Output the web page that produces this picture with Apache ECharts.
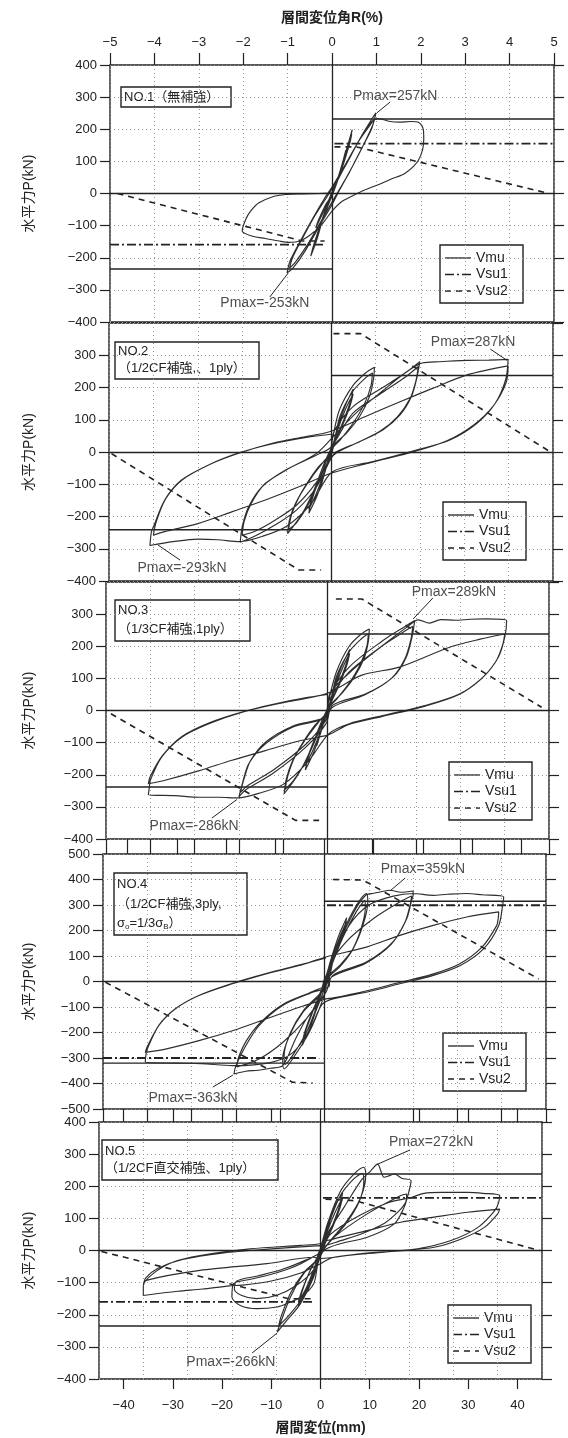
<!DOCTYPE html>
<html><head><meta charset="utf-8">
<script src="https://cdn.jsdelivr.net/npm/echarts@6/dist/echarts.min.js"></script>
<style>html,body{margin:0;padding:0;background:#fff}#c{width:568px;height:1438px}</style>
</head><body><div id="c"></div>
<script>
// ---------------- DATA ----------------
const X_MIN = -45, X_MAX = 45;             // 層間変位 (mm)
const R_MIN = -5, R_MAX = 5;               // 層間変位角 R (%)
const mmTicks = [-40, -30, -20, -10, 0, 10, 20, 30, 40];
const yMaxes = [400, 400, 400, 500, 400];
const specimenTitles = ['NO.1（無補強）', 'NO.2', 'NO.3', 'NO.4', 'NO.5'];
const specimenNotes = [[], ['（1/2CF補強,、1ply）'], ['（1/3CF補強,1ply）'],
  ['（1/2CF補強,3ply,', '{s|σ}{sub|o}{s|=1/3σ}{sub|B}{s|）}'], ['（1/2CF直交補強、1ply）']];
const legendNames = ['Vmu', 'Vsu1', 'Vsu2'];

// Vmu (+side, −side)
const vmu = [[232, -235], [237, -241], [238, -238], [315, -320], [238, -235]];
// Vsu1 (+side, −side), null = off scale
const vsu1 = [[155, -159], null, null, [299, -300], [164, -160]];
// Vsu2 polylines
const vsu2Pos = [
  [[0.5, 145], [5, 145], [44, 0]],
  [[0.5, 367], [6, 367], [44.5, 0]],
  [[1.7, 347], [7, 347], [43.5, 10]],
  [[1.7, 400], [7.8, 398], [43.5, 10]],
  [[1, 160], [7, 155], [44.5, 0]]
];
const vsu2Neg = [
  [[-43.5, 0], [-6, -148], [-1.5, -148]],
  [[-44.5, -5], [-6.5, -366], [-2, -366]],
  [[-44, -10], [-6.5, -342], [-1.7, -342]],
  [[-44.5, -3], [-6.5, -395], [-2.4, -398]],
  [[-44.5, -3], [-6.5, -150], [-1, -150]]
];

// hysteresis loops [δ (mm), P (kN)]
const hyst1 = [
  [0,0],[1.2,45],[2.8,135],[2.3,105],[1,40],[0,5],[-1.2,-40],[-3.3,-107],[-2.8,-85],[-1.3,-35],[0,-5],
  [1.5,60],[3,140],[4.1,199],[3.7,170],[2.5,110],[1,40],[0,0],[-1.5,-60],[-3,-140],[-4.3,-195],[-3.8,-165],[-2.5,-105],[-1,-40],[0,-5],
  [1.5,55],[3,125],[4,185],[3.5,150],[2.2,90],[0.8,25],[-1.5,-65],[-3,-130],[-4.1,-182],[-3.5,-150],[-2.2,-90],[-0.8,-30],[0,-10],
  [0.5,20],[3,95],[6,180],[8,230],[8.9,251],[8.3,215],[6.5,155],[4,80],[1.5,10],[0,-35],[-2.5,-100],[-5.5,-180],[-7.8,-230],[-9.1,-247],[-8.5,-210],[-6.5,-150],[-4,-80],[-1.5,-15],[0,20],
  [2.5,85],[5.5,165],[7.8,215],[8.6,232],[8,200],[6,140],[3.5,65],[1,0],[-2,-80],[-5,-160],[-7.5,-215],[-8.6,-232],[-8,-200],[-6,-140],[-3.5,-70],[-1,-10],[0,15],
  [2.5,80],[5.5,165],[7.8,220],[9.5,233],[11.5,225],[13.6,222],[16,224],[17.6,221],[18.5,200],[18.6,168],[17.6,106],[14.9,64],[12,45],[9.5,28],[6.5,10],[4.1,-8],[2,-25],[0,-55],
  [-2,-95],[-4.5,-130],[-6.5,-148],[-8.7,-152],[-10.7,-148],[-13.5,-140],[-16.1,-133],[-18.2,-117],[-17.5,-81],[-16.5,-55],[-14.8,-29],[-12,-10],[-9.4,-3],[-6,-1],[-2.6,0],[0,2]
];
const hyst2 = [
  [0,0],[1,55],[2.2,115],[1.7,85],[0.6,30],[0,8],[-1,-50],[-2.2,-115],[-1.7,-85],[-0.6,-30],[0,-5],
  [1.2,70],[2.8,140],[4.5,195],[4,160],[2.6,100],[0.8,35],[0,10],[-1.2,-60],[-2.8,-135],[-4.5,-190],[-4,-155],[-2.6,-95],[-0.8,-35],[0,-12],
  [1.4,70],[3,135],[4.5,180],[3.9,145],[2.4,85],[0.6,25],[-1.4,-65],[-3,-130],[-4.5,-178],[-3.8,-140],[-2.2,-80],[-0.4,-20],
  [0.3,40],[1.7,130],[4.4,205],[7,245],[8.8,263],[8.6,224],[7.8,172],[5.8,110],[3.1,58],[0.3,17],[-1.5,-40],[-3.5,-120],[-6,-195],[-8.8,-253],[-8.4,-210],[-7.2,-160],[-5,-100],[-2.5,-45],[0,-5],
  [1.8,110],[4.5,190],[7,230],[8.4,245],[8.1,205],[6.8,150],[4.5,90],[2,40],[0,5],[-2,-70],[-4.5,-160],[-7,-220],[-8.6,-240],[-8,-195],[-6.5,-140],[-4,-80],[-1.5,-30],[0,0],
  [0.5,60],[4.4,140],[10.5,200],[15.3,248],[18,280],[17.4,230],[16.3,172],[14,115],[10.5,68],[5.8,32],[1,0],[0,-20],[-3,-110],[-7,-180],[-11.2,-225],[-15.3,-260],[-18.4,-280],[-18,-232],[-16.7,-170],[-14,-108],[-9.2,-56],[-3,-10],[0,15],
  [4.4,120],[10.5,185],[15.3,235],[17.7,265],[17.2,220],[16,165],[13.5,110],[10,65],[5.5,30],[0.5,-10],[-3,-95],[-7,-165],[-11.2,-210],[-15.3,-245],[-18,-258],[-17.6,-215],[-16.2,-160],[-13.5,-100],[-9,-55],[-3,-5],[0,40],
  [5,120],[10.5,190],[15,245],[18.5,276],[22,280],[27.6,284],[32,285],[35.9,287],[35.4,224],[33.3,151],[29.6,89],[24.1,37],[17.3,6],[8.5,-30],[0.3,-61],[-4,-160],[-9,-230],[-14,-262],[-18.4,-278],[-23,-272],[-27,-270],[-32,-278],[-36.7,-290],[-36.4,-247],[-36,-232],[-33.7,-149],[-30.3,-87],[-24.8,-40],[-18.7,-4],[-11.9,27],[-5.1,48],[-0.3,63],
  [7,110],[14,156],[20.7,198],[27.6,239],[35.9,267],[35.5,215],[33,145],[29,85],[23.5,35],[17,2],[8,-33],[0,-66],[-6.5,-108],[-13.3,-149],[-20,-185],[-27,-222],[-33.7,-247],[-36,-258],[-35.5,-220],[-33.5,-145],[-30,-85],[-24.5,-38],[-18.5,-2],[-12,25],[-5,45],[0,55]
];
const hyst3 = [
  [0,0],[1,50],[2.2,110],[1.7,80],[0.6,25],[0,5],[-1,-50],[-2.2,-110],[-1.7,-80],[-0.6,-25],[0,-5],
  [1.2,65],[2.8,135],[4.5,190],[4,155],[2.6,95],[0.8,30],[0,8],[-1.2,-60],[-2.8,-130],[-4.5,-185],[-4,-150],[-2.6,-90],[-0.8,-30],[0,-10],
  [1.4,65],[3,130],[4.5,178],[3.9,140],[2.4,80],[0.6,20],[-1.4,-65],[-3,-125],[-4.5,-172],[-3.8,-135],[-2.2,-75],[-0.4,-18],
  [0.3,35],[1.8,120],[4.4,200],[7,240],[8.5,254],[8.3,215],[7.5,165],[5.5,105],[3,55],[0.3,12],[-1.5,-45],[-3.5,-125],[-6,-200],[-8.8,-259],[-8.4,-215],[-7.2,-160],[-5,-100],[-2.5,-45],[0,-5],
  [1.8,105],[4.5,185],[7,225],[8.3,240],[8,200],[6.7,145],[4.4,85],[2,38],[0,3],[-2,-75],[-4.5,-160],[-7,-220],[-8.6,-245],[-8,-200],[-6.5,-140],[-4,-80],[-1.5,-30],[0,-2],
  [0.3,41],[4.4,135],[11.2,217],[16,264],[17.7,280],[17.3,238],[16,166],[13.3,104],[7.8,52],[1,16],[-0.3,-41],[-4.4,-114],[-11.2,-197],[-16.7,-248],[-18,-269],[-17.3,-228],[-16,-166],[-12.6,-104],[-7.1,-52],[-0.3,-21],
  [0.3,30],[4.4,120],[11,200],[15.5,245],[17.3,262],[17,225],[15.7,160],[13,100],[7.5,48],[1,10],[-0.5,-35],[-4.4,-105],[-11,-185],[-16.3,-235],[-17.7,-255],[-17,-215],[-15.6,-155],[-12.3,-95],[-7,-48],[0,-15],
  [0.3,45],[5,125],[11,200],[16,258],[18.5,282],[20.7,272],[23,283],[26,281],[29,284],[32,285],[36.4,280],[36,228],[34.7,166],[31.6,104],[26.9,52],[20,16],[11.2,-16],[4.4,-41],[0.3,-72],[-4,-160],[-9,-230],[-14,-258],[-18.2,-272],[-22,-270],[-26,-270],[-31,-265],[-36.4,-262],[-36.2,-240],[-36,-217],[-33.7,-145],[-29.6,-83],[-24.1,-41],[-17.3,-5],[-8.5,26],[-0.3,52],
  [7,110],[14.6,135],[24.8,197],[31,222],[36,238],[35.6,205],[34.3,155],[31.2,98],[26.5,48],[19.7,13],[11,-19],[4.2,-44],[0.3,-75],[-5.8,-95],[-12.6,-125],[-19.4,-155],[-26.2,-188],[-33,-217],[-36.4,-228],[-36,-205],[-33.5,-140],[-29.5,-80],[-24,-38],[-17,-3],[-8.5,28],[0,50]
];
const hyst4 = [
  [0,0],[1,60],[2.2,140],[1.7,100],[0.6,35],[0,5],[-1,-60],[-2.2,-140],[-1.7,-100],[-0.6,-35],[0,-5],
  [1.2,80],[2.8,175],[4.5,250],[4,205],[2.6,130],[0.8,40],[0,10],[-1.2,-80],[-2.8,-175],[-4.5,-250],[-4,-205],[-2.6,-130],[-0.8,-40],[0,-10],
  [1.4,85],[3,170],[4.5,235],[3.9,190],[2.4,115],[0.6,30],[-1.4,-90],[-3,-170],[-4.5,-235],[-3.8,-185],[-2.2,-105],[-0.4,-25],
  [1,63],[3.7,194],[6.5,299],[8.5,345],[8.8,312],[7.8,220],[5.8,128],[3.1,63],[1,24],[-0.3,-68],[-3.1,-199],[-6.5,-304],[-8.2,-343],[-8.5,-304],[-7.1,-212],[-4.4,-121],[-1,-55],[0,-20],
  [1.2,50],[3.8,175],[6.5,275],[8.2,318],[8.3,290],[7.4,205],[5.5,118],[3,55],[0.8,15],[-0.5,-55],[-3.3,-185],[-6.3,-285],[-8,-325],[-8.2,-290],[-6.9,-200],[-4.2,-112],[-0.8,-45],[0,-15],
  [1,60],[3.5,175],[6.5,290],[8.5,340],[10,346],[11.5,352],[13.3,358],[15.5,350],[18,355],[18,338],[17.7,318],[16.7,246],[13.9,155],[8.5,76],[1.7,24],[0.3,-42],[-3.7,-147],[-6,-230],[-8.5,-330],[-11,-340],[-13.5,-348],[-16,-352],[-18.4,-363],[-18,-330],[-16,-252],[-13.3,-173],[-8.5,-94],[-2.4,-42],[1,-16],
  [1,50],[4.4,155],[9.9,246],[15.3,312],[17.7,335],[17.4,300],[16.3,230],[13.5,145],[8.2,70],[1.5,18],[0.3,-42],[-3.7,-147],[-8.5,-239],[-13.3,-304],[-17.8,-335],[-17.5,-300],[-15.8,-230],[-13,-160],[-8.3,-88],[-2.3,-38],[0.5,-10],
  [2,100],[5,220],[9,300],[14,335],[18,345],[22,338],[25,342],[28.9,345],[32,340],[36.4,332],[36.2,300],[35.4,220],[32.3,128],[27.6,63],[22.1,24],[15.3,-9],[8.5,-42],[1.7,-68],[-0.5,-90],[-3,-190],[-6.5,-280],[-11,-318],[-18.6,-330],[-25,-322],[-30,-320],[-36.4,-317],[-36.3,-290],[-36,-265],[-33.7,-173],[-30.3,-107],[-25.5,-55],[-18.7,-9],[-11.9,30],[-5.1,63],[0.3,96],
  [8.5,135],[15.3,181],[22.1,220],[28.9,253],[35.4,273],[35.3,250],[35,220],[32,135],[27.3,68],[21.8,28],[15,-5],[8.2,-38],[1.5,-65],[0.3,-68],[-5.1,-101],[-11.9,-147],[-18.7,-193],[-25.5,-232],[-32.3,-265],[-36.4,-278],[-36,-255],[-33.5,-168],[-30,-103],[-25.2,-52],[-18.5,-6],[-11.7,32],[-5,65],[0.3,92]
];
const hyst5 = [
  [0,0],[1,50],[2.2,110],[1.7,80],[0.6,25],[0,5],[-1,-45],[-2.2,-105],[-1.7,-75],[-0.6,-25],[0,-5],
  [1.2,65],[2.8,135],[4.5,180],[4,145],[2.6,85],[0.8,25],[0,5],[-1.2,-55],[-2.8,-125],[-4.5,-175],[-4,-140],[-2.6,-80],[-0.8,-25],[0,-8],
  [1.4,60],[3,120],[4.5,165],[3.9,130],[2.4,70],[0.6,15],[-1.4,-60],[-3,-120],[-4.5,-160],[-3.8,-125],[-2.2,-65],[-0.4,-12],
  [1.4,83],[4.1,186],[6.8,238],[8.8,259],[9.2,238],[8.2,166],[5.4,93],[2,31],[0,-10],[-1.4,-83],[-4.1,-166],[-6.8,-217],[-8.8,-254],[-8.2,-228],[-6.1,-145],[-3.4,-72],[-0.7,-31],[0,-10],
  [1.4,70],[4,170],[6.7,222],[8.5,240],[8.8,215],[7.8,150],[5.1,82],[1.8,25],[0,-12],[-1.4,-75],[-4,-155],[-6.6,-205],[-8.5,-235],[-8,-205],[-6,-130],[-3.2,-65],[-0.6,-25],
  [1.4,52],[4.8,135],[8.2,217],[10.2,248],[11.6,269],[12.9,228],[14,233],[15,238],[16.5,225],[18.4,217],[18,186],[17,135],[15,83],[9.5,41],[4,21],[0.7,0],
  [-0.5,-40],[-1.4,-104],[-4,-145],[-6.8,-165],[-8.8,-176],[-12.9,-181],[-16.3,-171],[-18,-145],[-17.7,-104],[-15,-92],[-10.9,-78],[-7,-60],[-4,-41],[0,-5],
  [2.7,41],[9.5,114],[16.3,171],[17.5,176],[17.3,150],[16,124],[13,85],[8,50],[3,25],[0,5],
  [-1.4,-60],[-5,-110],[-9,-140],[-13,-150],[-16,-140],[-17.5,-120],[-17,-95],[-13,-80],[-8,-60],[-3,-30],[0,-5],
  [2,50],[8,110],[14,150],[18.4,165],[21,178],[24.5,181],[29.9,181],[33,178],[36.4,171],[36.2,150],[35.4,124],[32,72],[26.5,31],[19.7,5],[12.9,-5],[2.7,-21],[0,-41],
  [-4,-70],[-10,-95],[-16,-108],[-18.5,-110],[-24,-120],[-29,-127],[-36,-140],[-36,-110],[-34,-72],[-29.9,-36],[-24.5,-16],[-14.3,5],[-4,16],[0,21],
  [1.4,31],[9.5,62],[16.3,88],[23.1,104],[29.9,119],[36.4,129],[36,114],[33.3,72],[28.6,36],[23.1,10],[16.3,0],[8,-10],[0,-25],
  [-1.4,-21],[-10.9,-41],[-24.5,-62],[-35.4,-93],[-36,-109],[-35.5,-85],[-33,-55],[-28,-28],[-20,-8],[-10,5],[0,15]
];
const hyst = [hyst1, hyst2, hyst3, hyst4, hyst5];

// Pmax annotations: [δ, P, text]; arrows: [[from],[to]]
const pmaxText = [
  [[12.8, 303, 'Pmax=257kN'], [-13.6, -341, 'Pmax=-253kN']],
  [[28.8, 341, 'Pmax=287kN'], [-30.2, -360, 'Pmax=-293kN']],
  [[25.7, 369, 'Pmax=289kN'], [-27.1, -359, 'Pmax=-286kN']],
  [[20, 441, 'Pmax=359kN'], [-26.7, -457, 'Pmax=-363kN']],
  [[22.5, 338, 'Pmax=272kN'], [-18.2, -347, 'Pmax=-266kN']]
];
const pmaxArrow = [
  [[[11.8, 285], [9.1, 251]], [[-12.6, -322], [-8.9, -248]]],
  [[[32.3, 319], [35.7, 284]], [[-30.6, -335], [-35.1, -288]]],
  [[[21.4, 350], [17.4, 285]], [[-23.5, -335], [-18.4, -277]]],
  [[[16.4, 406], [13.3, 355]], [[-22.7, -414], [-18.6, -367]]],
  [[[18.2, 313], [11.5, 268]], [[-13.9, -319], [-8.8, -257]]]
];

// ---------------- LAYOUT ----------------
const FONT = "'Liberation Sans','Noto Sans CJK JP',sans-serif";
const INK = '#222';
const panels = [
  { left: 110, top: 65, width: 444, height: 257 },
  { left: 109, top: 323, width: 444, height: 258 },
  { left: 106, top: 582, width: 443, height: 257 },
  { left: 103, top: 854, width: 443, height: 255 },
  { left: 99, top: 1122, width: 443, height: 257 }
];
const titleBoxes = [
  { x: 121, y: 87, w: 110, h: 20, lines: [10] },
  { x: 115, y: 342, w: 144, h: 37, lines: [9, 26] },
  { x: 115, y: 600, w: 135, h: 41, lines: [10, 29] },
  { x: 114, y: 873, w: 133, h: 62, lines: [11, 31, 50] },
  { x: 102, y: 1140, w: 176, h: 40, lines: [11, 28] }
];
const legendBoxes = [[440, 245], [443, 502], [449, 762], [443, 1033], [448, 1305]];
const dashVsu1 = [9, 3, 2, 3];
const dashVsu2 = [6, 5];
const minus = v => (v < 0 ? '\u2212' + (-v) : String(v));

const grids = [], xAxes = [], yAxes = [], series = [], graphics = [];
const tickStyle = { color: INK, width: 1.2 };
const gridLine = { show: true, lineStyle: { type: [1, 3], color: '#9a9a9a', width: 1 } };
const noLine = { show: false, onZero: false };

panels.forEach((p, i) => {
  const ymax = yMaxes[i];
  grids.push({ left: p.left, top: p.top, width: p.width, height: p.height, show: true,
    borderColor: INK, borderWidth: 1.4, backgroundColor: 'transparent' });
  const mmIndex = xAxes.length;
  xAxes.push({ type: 'value', gridIndex: i, min: X_MIN, max: X_MAX, position: 'bottom',
    axisLine: noLine, splitLine: { show: false },
    axisTick: { show: i === 4, length: 10, lineStyle: tickStyle, customValues: mmTicks },
    axisLabel: { show: i === 4, customValues: mmTicks, margin: 20, fontSize: 13, color: INK, formatter: minus },
    name: i === 4 ? '層間変位(mm)' : '', nameLocation: 'middle', nameGap: 42,
    nameTextStyle: { fontSize: 14, color: INK, fontFamily: FONT, fontWeight: 'bold' } });
  const rPos = (i === 2 || i === 3) ? 'bottom' : 'top';
  const rTickLen = i === 0 ? 12 : (i === 2 ? 15 : 13);
  xAxes.push({ type: 'value', gridIndex: i, min: R_MIN, max: R_MAX, interval: 1, position: rPos,
    axisLine: noLine, splitLine: gridLine,
    axisTick: { show: i === 0 || i === 2 || i === 3, length: rTickLen, lineStyle: tickStyle },
    axisLabel: { show: i === 0, margin: 16, fontSize: 13, color: INK, formatter: minus },
    name: i === 0 ? '層間変位角R(%)' : '', nameLocation: 'middle', nameGap: 40,
    nameTextStyle: { fontSize: 14, color: INK, fontFamily: FONT, fontWeight: 'bold' } });
  if (i === 3 || i === 4) {
    xAxes.push({ type: 'value', gridIndex: i, min: X_MIN, max: X_MAX, position: 'top',
      axisLine: noLine, splitLine: { show: false }, axisLabel: { show: false },
      axisTick: { show: true, length: i === 3 ? 15 : 13, lineStyle: tickStyle, customValues: mmTicks } });
  }
  const yL = yAxes.length;
  yAxes.push({ type: 'value', gridIndex: i, min: -ymax, max: ymax, interval: 100, position: 'left',
    axisLine: noLine, splitLine: gridLine,
    axisTick: { show: true, length: 10, lineStyle: tickStyle },
    axisLabel: { margin: 13, fontSize: 13, color: INK, formatter: minus, showMaxLabel: !(i === 1 || i === 2) },
    name: '水平力P(kN)', nameLocation: 'middle', nameGap: p.left - 36,
    nameTextStyle: { fontSize: 14, color: INK, fontFamily: FONT } });
  yAxes.push({ type: 'value', gridIndex: i, min: -ymax, max: ymax, interval: 100, position: 'right',
    axisLine: noLine, splitLine: { show: false }, axisLabel: { show: false },
    axisTick: { show: true, length: 10, lineStyle: tickStyle } });

  const base = { xAxisIndex: mmIndex, yAxisIndex: yL, showSymbol: false, symbol: 'none', silent: true, animation: false };
  series.push(Object.assign({}, base, { type: 'line', name: 'P' + (i + 1), data: hyst[i], z: 4, smooth: 0.3,
    lineStyle: { color: '#2e2e2e', width: 1.15 },
    markLine: { silent: true, symbol: 'none', label: { show: false }, animation: false,
      lineStyle: { color: INK, width: 1.3, type: 'solid' }, data: [{ yAxis: 0 }, { xAxis: 0 }] } }));
  series.push(Object.assign({}, base, { type: 'line', name: 'Vmu', data: [[0, vmu[i][0]], [X_MAX, vmu[i][0]]], lineStyle: { color: INK, width: 1.4 }, z: 3 }));
  series.push(Object.assign({}, base, { type: 'line', name: 'Vmu', data: [[X_MIN, vmu[i][1]], [0, vmu[i][1]]], lineStyle: { color: INK, width: 1.4 }, z: 3 }));
  if (vsu1[i]) {
    series.push(Object.assign({}, base, { type: 'line', name: 'Vsu1', data: [[0.5, vsu1[i][0]], [X_MAX, vsu1[i][0]]], lineStyle: { color: INK, width: 1.8, type: dashVsu1 }, z: 3 }));
    series.push(Object.assign({}, base, { type: 'line', name: 'Vsu1', data: [[X_MIN, vsu1[i][1]], [-1.3, vsu1[i][1]]], lineStyle: { color: INK, width: 1.8, type: dashVsu1 }, z: 3 }));
  }
  series.push(Object.assign({}, base, { type: 'line', name: 'Vsu2', data: vsu2Pos[i], lineStyle: { color: INK, width: 1.6, type: dashVsu2 }, z: 3 }));
  series.push(Object.assign({}, base, { type: 'line', name: 'Vsu2', data: vsu2Neg[i], lineStyle: { color: INK, width: 1.6, type: dashVsu2 }, z: 3 }));
  series.push(Object.assign({}, base, { type: 'scatter', name: 'Pmax', symbol: 'circle', symbolSize: 0, z: 6,
    data: pmaxText[i].map(t => ({ value: [t[0], t[1]], name: t[2] })),
    label: { show: true, position: 'inside', formatter: q => q.name, fontSize: 14, color: INK, fontFamily: FONT },
    markLine: { silent: true, symbol: ['none', 'arrow'], symbolSize: [0, 6], label: { show: false }, animation: false,
      lineStyle: { color: INK, width: 1, type: 'solid' },
      data: pmaxArrow[i].map(a => [{ coord: a[0] }, { coord: a[1] }]) } }));

  const tb = titleBoxes[i];
  const kids = [{ type: 'rect', shape: { x: 0, y: 0, width: tb.w, height: tb.h }, style: { fill: '#fff', stroke: INK, lineWidth: 1.4 } }];
  const texts = [specimenTitles[i]].concat(specimenNotes[i]);
  texts.forEach((t, k) => {
    const st = { x: 3, y: tb.lines[k], text: t, fontSize: 13, fontFamily: FONT, fill: INK, verticalAlign: 'middle', align: 'left' };
    if (t.indexOf('{') >= 0) {
      st.rich = { s: { fontSize: 13, fontFamily: FONT, fill: INK }, sub: { fontSize: 8, fontFamily: FONT, fill: INK, padding: [7, 0, 0, 0] } };
    }
    kids.push({ type: 'text', style: st });
  });
  graphics.push({ type: 'group', x: tb.x, y: tb.y, z: 10, children: kids });

  const lb = legendBoxes[i];
  const lk = [{ type: 'rect', shape: { x: 0, y: 0, width: 83, height: 58 }, style: { fill: '#fff', stroke: INK, lineWidth: 1.4 } }];
  const dashes = [null, dashVsu1, dashVsu2];
  legendNames.forEach((nm, k) => {
    const yy = 13 + k * 16.5;
    const ls = { stroke: INK, lineWidth: k === 0 ? 1.3 : 1.6 };
    if (dashes[k]) ls.lineDash = dashes[k];
    lk.push({ type: 'line', shape: { x1: 5, y1: yy, x2: 31, y2: yy }, style: ls });
    lk.push({ type: 'text', style: { x: 36, y: yy, text: nm, fontSize: 14, fontFamily: FONT, fill: INK, verticalAlign: 'middle', align: 'left' } });
  });
  graphics.push({ type: 'group', x: lb[0], y: lb[1], z: 10, children: lk });
});

const chart = echarts.init(document.getElementById('c'), null, { renderer: 'canvas' });
chart.setOption({
  animation: false,
  backgroundColor: '#fff',
  textStyle: { fontFamily: FONT },
  grid: grids, xAxis: xAxes, yAxis: yAxes, series: series, graphic: graphics
});
</script></body></html>
